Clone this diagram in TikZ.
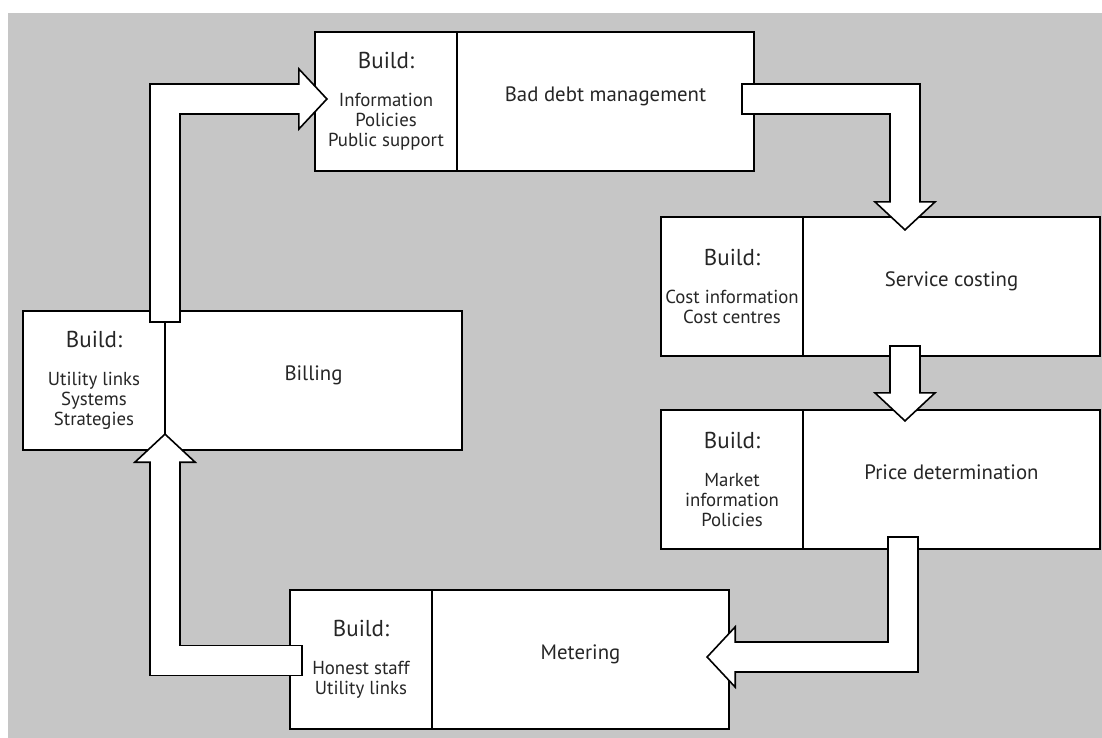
\documentclass[tikz,border=0pt]{standalone}
\usepackage{fontspec}
\setmainfont{PT Sans}
\usetikzlibrary{arrows.meta,calc}
\definecolor{bggray}{RGB}{198,198,198}
\newcommand{\buildfont}{\fontsize{23}{20}\selectfont}
\newcommand{\buildtext}[1]{{\buildfont Build:}\\[18pt]#1}
\newcommand{\mainlabel}[1]{\raisebox{14pt}{#1}}

\begin{document}
\begin{tikzpicture}[x=1pt, y=-1pt,
    box/.style={draw, fill=white, line width=1.6pt, inner sep=0pt, outer sep=0pt,
      minimum height=139pt, text=black!85},
    buildbox/.style={box, anchor=north west, minimum width=142pt, align=center,
      font=\fontsize{18.8}{20}\selectfont},
    mainbox/.style={box, anchor=west, minimum width=297pt,
      font=\fontsize{20.8}{22}\selectfont},
    shaftout/.style={line width=31.6pt},
    shaftin/.style={line width=28.4pt, white, shorten <=1.6pt, shorten >=-2pt},
    fathead/.style={line width=1.6pt, -{Triangle[length=30pt, width=64pt, fill=white]}}]

  \useasboundingbox (0,0) rectangle (1102,738);
  \fill[bggray] (8,13) rectangle (1102,738);

  % Bad debt management
  \node[buildbox] (debtB) at (315,32) {\buildtext{Information\\Policies\\Public support}};
  \node[mainbox] (debt) at (debtB.east) {\mainlabel{Bad debt management}};

  % Service costing
  \node[buildbox] (costB) at (661,217) {\buildtext{Cost information\\Cost centres}};
  \node[mainbox] (cost) at (costB.east) {\mainlabel{Service costing}};

  % Price determination
  \node[buildbox] (priceB) at (661,410) {\buildtext{Market\\information\\Policies}};
  \node[mainbox] (price) at (priceB.east) {\mainlabel{Price determination}};

  % Billing
  \node[buildbox] (billB) at (23,311) {\buildtext{Utility links\\Systems\\Strategies}};
  \node[mainbox] (bill) at (billB.east) {\mainlabel{Billing}};

  % Metering
  \node[buildbox] (meterB) at (290,590) {\buildtext{Honest staff\\Utility links}};
  \node[mainbox] (meter) at (meterB.east) {\mainlabel{Metering}};

  % billing -> bad debt
  \coordinate (s1) at ($(billB.north east)+(0,12)$);
  \coordinate (t1) at ($(debtB.west)+(13,-2.5)$);
  \coordinate (b1) at ($(t1)+(-30,0)$);
  \draw[shaftout] (s1) |- (b1);
  \draw[fathead] (b1) -- (t1);
  \draw[shaftin] (s1) |- (b1);

  % bad debt -> service costing
  \coordinate (s2) at ($(debt.east)+(-13,-2.5)$);
  \coordinate (t2) at ($(cost.north west)+(102,14)$);
  \coordinate (b2) at ($(t2)+(0,-30)$);
  \draw[shaftout] (s2) -| (b2);
  \draw[fathead] (b2) -- (t2);
  \draw[shaftin] (s2) -| (b2);

  % service costing -> price determination
  \coordinate (s3) at ($(cost.south west)+(102,-11)$);
  \coordinate (t3) at ($(price.north west)+(102,12)$);
  \coordinate (b3) at ($(t3)+(0,-30)$);
  \draw[shaftout] (s3) -- (b3);
  \draw[fathead] (b3) -- (t3);
  \draw[shaftin] (s3) -- (b3);

  % price determination -> metering
  \coordinate (s4) at ($(price.south west)+(100,-13)$);
  \coordinate (t4) at ($(meter.east)+(-23,-2.5)$);
  \coordinate (b4) at ($(t4)+(30,0)$);
  \draw[shaftout] (s4) |- (b4);
  \draw[fathead] (b4) -- (t4);
  \draw[shaftin] (s4) |- (b4);

  % metering -> billing
  \coordinate (s5) at ($(meterB.west)+(13,1)$);
  \coordinate (t5) at ($(billB.south east)+(0,-17)$);
  \coordinate (b5) at ($(t5)+(0,30)$);
  \draw[shaftout] (s5) -| (b5);
  \draw[fathead] (b5) -- (t5);
  \draw[shaftin] (s5) -| (b5);
\end{tikzpicture}
\end{document}
